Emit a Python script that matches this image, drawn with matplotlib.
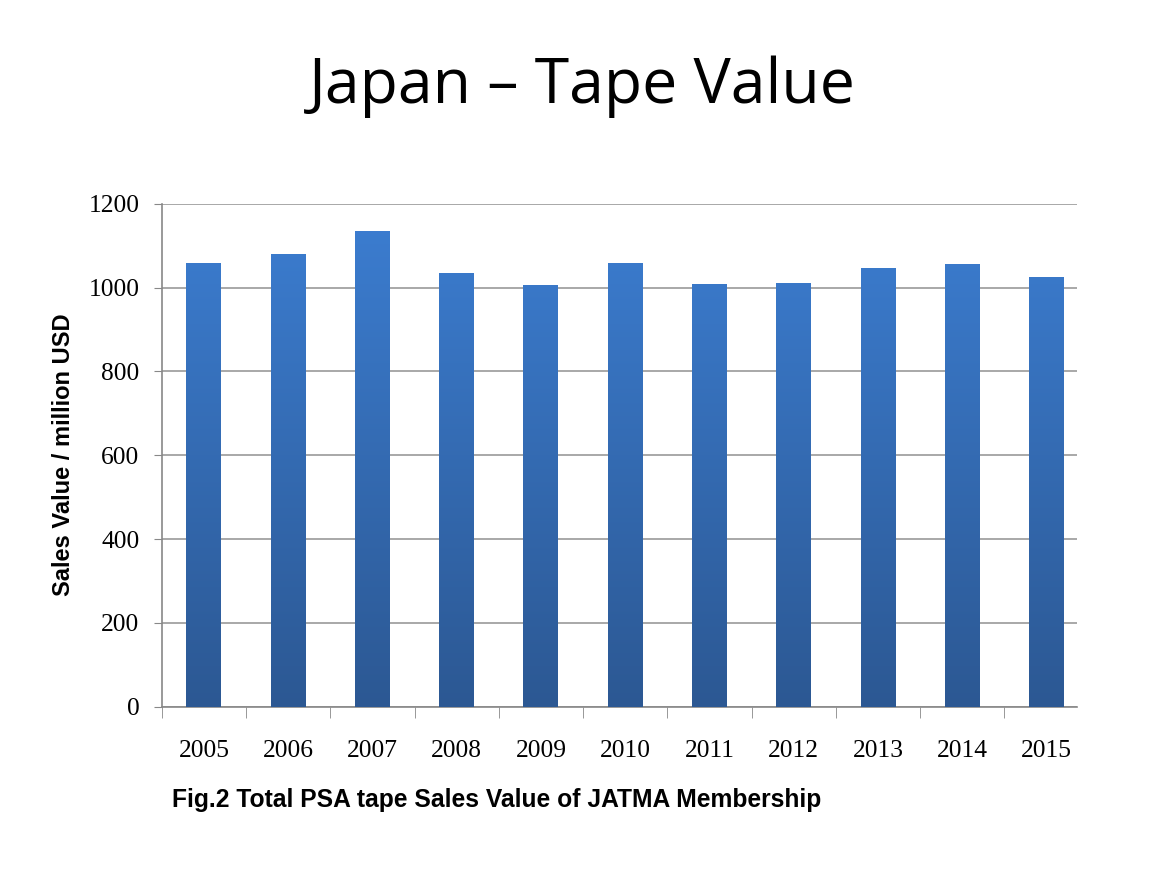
import numpy as np
import matplotlib
matplotlib.use("Agg")
import matplotlib.pyplot as plt
from matplotlib.colors import LinearSegmentedColormap

years = ["2005", "2006", "2007", "2008", "2009", "2010", "2011", "2012", "2013", "2014", "2015"]
values = [1059, 1080, 1134, 1034, 1006, 1059, 1009, 1010, 1046, 1056, 1025]
yticks = [0, 200, 400, 600, 800, 1000, 1200]

fig = plt.figure(figsize=(11.64, 8.72), dpi=100)
ax = fig.add_axes([0.139, 0.1896, 0.786, 0.5768])

x = np.arange(len(years))
bars = ax.bar(x, values, width=0.415, color="#3B7BCC", zorder=2, linewidth=0)

cmap = LinearSegmentedColormap.from_list("g", ["#2C5893", "#3C7ED2"])
grad = np.linspace(0, 1, 256).reshape(-1, 1)
for b in bars:
    x0 = b.get_x()
    w = b.get_width()
    im = ax.imshow(grad, cmap=cmap, aspect="auto", origin="lower",
                   extent=[x0, x0 + w, 0, 1200], zorder=3)
    im.set_clip_path(b)

# the original chart is cropped slightly on the right side
ax.set_xlim(-0.5, len(years) - 0.5 - 0.142)
ax.set_ylim(0, 1200)
ax.set_yticks(yticks)
ax.set_yticklabels([str(t) for t in yticks], fontfamily="Liberation Serif", fontsize=18.4)
ax.set_xticks(x)
ax.set_xticklabels(years, fontfamily="Liberation Serif", fontsize=18.4)
ax.tick_params(axis="x", length=0, pad=24)
ax.set_xticks(np.arange(-0.5, len(years) - 1, 1), minor=True)
ax.tick_params(axis="x", which="minor", length=8, color="#888888", direction="out")
ax.tick_params(axis="y", length=6, color="#888888", pad=10)
ax.yaxis.grid(True, color="#999999", linewidth=1.2, zorder=0)
ax.set_axisbelow(True)
for s in ["top", "right"]:
    ax.spines[s].set_visible(False)
for s in ["left", "bottom"]:
    ax.spines[s].set_color("#888888")
    ax.spines[s].set_linewidth(1.2)

ax.set_ylabel("Sales Value / million USD", fontfamily="Liberation Sans", fontweight="bold",
              fontsize=17, labelpad=10)

fig.text(0.5, 0.90, "Japan \u2013 Tape Value", ha="center", va="center",
         fontfamily="Open Sans", fontsize=45)
fig.text(0.148, 0.082, "Fig.2 Total PSA tape Sales Value of JATMA Membership",
         ha="left", va="center", fontfamily="Liberation Sans", fontweight="bold",
         fontsize=17.7)

fig.savefig("out.png", dpi=100)
